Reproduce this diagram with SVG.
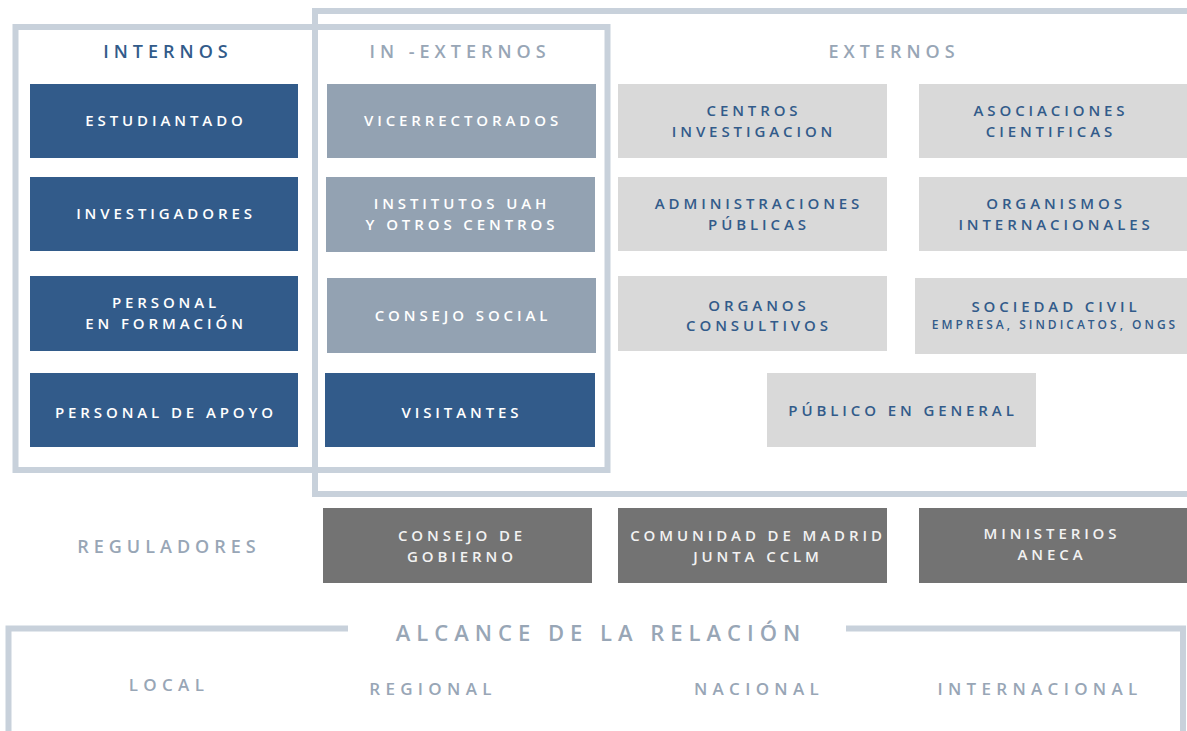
<svg xmlns="http://www.w3.org/2000/svg" width="1187" height="731" viewBox="0 0 1187 731">
<style>
.frame{fill:none;stroke:#c8d1db;stroke-width:6}
.t{font-family:"Open Sans","Liberation Sans",sans-serif;text-anchor:middle}
.bx{font-size:15px;font-weight:600;letter-spacing:3.9px}
.w{fill:#ffffff}
.db{fill:#325b8a}
.hd{font-size:18px;font-weight:600;letter-spacing:5px}
.lg{fill:#98a6b6}
.sc{font-size:17px;font-weight:600;letter-spacing:5.3px}
.int{fill:#325b8a}
.mid{fill:#93a2b2}
.ext{fill:#d9d9d9}
.reg{fill:#737373}
.rw{fill:#f2f2f2}
</style>
<rect width="1187" height="731" fill="#ffffff"/>
<g id="frames">
<rect class="frame" x="315" y="11" width="900" height="483"/>
<rect class="frame" x="15.5" y="27" width="592" height="443"/>
<path class="frame" d="M348 628.5 H8.5 V740 M846 628.5 H1183 V740"/>
</g>
<g id="headers">
<text class="t hd db" x="168" y="58">INTERNOS</text>
<text class="t hd lg" x="460" y="58">IN -EXTERNOS</text>
<text class="t hd lg" x="894" y="58">EXTERNOS</text>
<text class="t hd lg" x="169" y="553">REGULADORES</text>
<text class="t lg" x="601" y="641" style="font-size:22px;font-weight:600;letter-spacing:6px">ALCANCE DE LA RELACIÓN</text>
<text class="t sc lg" x="169" y="691">LOCAL</text>
<text class="t sc lg" x="433" y="695">REGIONAL</text>
<text class="t sc lg" x="759" y="695">NACIONAL</text>
<text class="t sc lg" x="1040" y="695">INTERNACIONAL</text>
</g>
<g id="n-estudiantado"><rect class="int" x="30" y="84" width="268" height="74"/><text class="t bx w" x="166" y="126">ESTUDIANTADO</text></g>
<g id="n-investigadores"><rect class="int" x="30" y="177" width="268" height="74"/><text class="t bx w" x="166" y="219">INVESTIGADORES</text></g>
<g id="n-personal-formacion"><rect class="int" x="30" y="276" width="268" height="75"/><text class="t bx w" x="166" y="308">PERSONAL</text><text class="t bx w" x="166" y="329">EN FORMACIÓN</text></g>
<g id="n-personal-apoyo"><rect class="int" x="30" y="373" width="268" height="74"/><text class="t bx w" x="166" y="418">PERSONAL DE APOYO</text></g>
<g id="n-vicerrectorados"><rect class="mid" x="327" y="84" width="269" height="74"/><text class="t bx w" x="463" y="126">VICERRECTORADOS</text></g>
<g id="n-institutos"><rect class="mid" x="326" y="177" width="269" height="75"/><text class="t bx w" x="462" y="209">INSTITUTOS UAH</text><text class="t bx w" x="462" y="230">Y OTROS CENTROS</text></g>
<g id="n-consejo-social"><rect class="mid" x="327" y="278" width="269" height="75"/><text class="t bx w" x="463" y="321">CONSEJO SOCIAL</text></g>
<g id="n-visitantes"><rect class="int" x="325" y="373" width="270" height="74"/><text class="t bx w" x="462" y="418">VISITANTES</text></g>
<g id="n-centros"><rect class="ext" x="618" y="84" width="269" height="74"/><text class="t bx db" x="754" y="116">CENTROS</text><text class="t bx db" x="754" y="137">INVESTIGACION</text></g>
<g id="n-asociaciones"><rect class="ext" x="919" y="84" width="270" height="74"/><text class="t bx db" x="1051" y="116">ASOCIACIONES</text><text class="t bx db" x="1051" y="137">CIENTIFICAS</text></g>
<g id="n-administraciones"><rect class="ext" x="618" y="177" width="269" height="74"/><text class="t bx db" x="759" y="209">ADMINISTRACIONES</text><text class="t bx db" x="759" y="230">PÚBLICAS</text></g>
<g id="n-organismos"><rect class="ext" x="919" y="177" width="270" height="74"/><text class="t bx db" x="1056" y="209">ORGANISMOS</text><text class="t bx db" x="1056" y="230">INTERNACIONALES</text></g>
<g id="n-organos"><rect class="ext" x="618" y="276" width="269" height="75"/><text class="t bx db" x="759" y="311">ORGANOS</text><text class="t bx db" x="759" y="331">CONSULTIVOS</text></g>
<g id="n-sociedad"><rect class="ext" x="915" y="278" width="274" height="76"/><text class="t bx db" x="1056" y="312">SOCIEDAD CIVIL</text><text class="t db" x="1055" y="329" style="font-size:12px;font-weight:600;letter-spacing:3px">EMPRESA, SINDICATOS, ONGS</text></g>
<g id="n-publico"><rect class="ext" x="767" y="373" width="269" height="74"/><text class="t bx db" x="903" y="416">PÚBLICO EN GENERAL</text></g>
<g id="n-consejo-gobierno"><rect class="reg" x="323" y="508" width="269" height="75"/><text class="t bx rw" x="462" y="541">CONSEJO DE</text><text class="t bx rw" x="462" y="562">GOBIERNO</text></g>
<g id="n-comunidad"><rect class="reg" x="618" y="508" width="269" height="75"/><text class="t bx rw" x="758" y="541">COMUNIDAD DE MADRID</text><text class="t bx rw" x="758" y="562">JUNTA CCLM</text></g>
<g id="n-ministerios"><rect class="reg" x="919" y="508" width="270" height="75"/><text class="t bx rw" x="1052" y="539">MINISTERIOS</text><text class="t bx rw" x="1052" y="560">ANECA</text></g>
<g id="connectors"></g>
</svg>
